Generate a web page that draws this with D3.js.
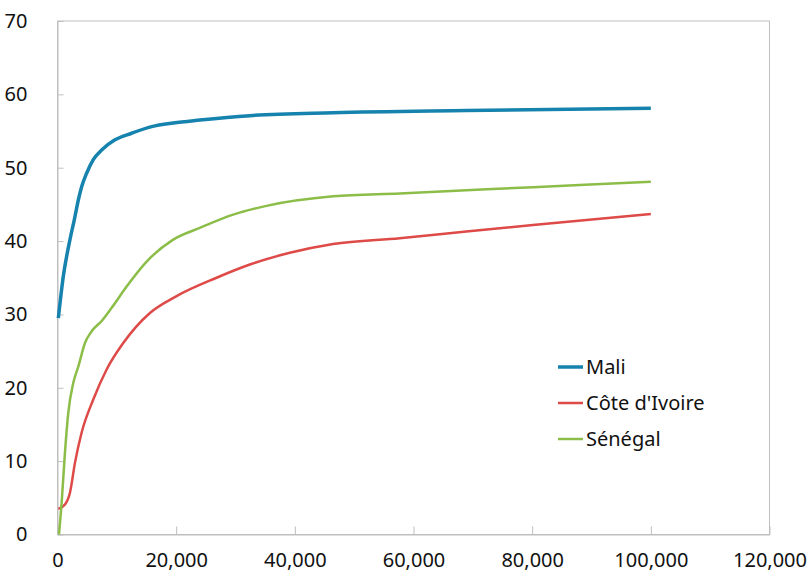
<!DOCTYPE html>
<html><head><meta charset="utf-8">
<script src="https://cdn.jsdelivr.net/npm/d3@7"></script>
<style>body{margin:0;background:#fff}svg{display:block}text{font-family:"Noto Sans",sans-serif;fill:#111}</style>
</head><body>
<svg id="c" width="810" height="583"></svg>
<script>
const seriesNames = ["Mali", "Côte d'Ivoire", "Sénégal"];
const seriesColors = ["#1682AE", "#DD4A47", "#8BBD48"];
const maliX = [140, 980, 2100, 2830, 3510, 4070, 4910, 6030, 7440, 9680, 12490, 15860, 19500, 24000, 32400, 46450, 68900, 100000];
const maliY = [29.5, 35.2, 40.2, 42.9, 45.6, 47.4, 49.25, 51.1, 52.4, 53.8, 54.7, 55.6, 56.1, 56.5, 57.1, 57.5, 57.8, 58.1];
const civX = [140, 1260, 2100, 2950, 4070, 6030, 8280, 11080, 15580, 20070, 26810, 32420, 39150, 46450, 57680, 68900, 80130, 100000];
const civY = [3.5, 4.1, 5.7, 9.8, 13.9, 18.4, 22.5, 26.1, 30.2, 32.5, 35.0, 36.8, 38.4, 39.6, 40.4, 41.3, 42.2, 43.7];
const senX = [250, 700, 1260, 1820, 2670, 3510, 4630, 5750, 7440, 9130, 11650, 15020, 19500, 24000, 29600, 35230, 46450, 57680, 80130, 100000];
const senY = [0, 4.35, 11.2, 16.6, 20.7, 22.9, 26.1, 27.7, 29.1, 30.9, 33.8, 37.2, 40.2, 41.8, 43.6, 44.8, 46.1, 46.5, 47.35, 48.1];
const xTicks = [0, 20000, 40000, 60000, 80000, 100000, 120000];
const yTicks = [0, 10, 20, 30, 40, 50, 60, 70];

const seriesX = [maliX, civX, senX];
const seriesY = [maliY, civY, senY];
const widths = [3.5, 2.5, 2.5];

const svg = d3.select("#c");
const L = 57.5, R = 769.5, T = 21, B = 534.5;
const x = d3.scaleLinear().domain([0, 120000]).range([L, R]);
const y = d3.scaleLinear().domain([0, 70]).range([B, T]);
const axisColor = "#BFBFBF";

// plot frame
svg.append("rect").attr("x", L).attr("y", T).attr("width", R - L).attr("height", B - T)
  .attr("fill", "none").attr("stroke", axisColor).attr("stroke-width", 1);

const fmt = d3.format(",");
const xa = svg.append("g").attr("transform", `translate(0,${B})`)
  .call(d3.axisBottom(x).tickValues(xTicks).tickFormat(fmt).tickSizeInner(-8).tickSizeOuter(0).tickPadding(17));
const ya = svg.append("g").attr("transform", `translate(${L},0)`)
  .call(d3.axisLeft(y).tickValues(yTicks).tickSizeInner(-6).tickSizeOuter(0).tickPadding(30));
[xa, ya].forEach(a => {
  a.select(".domain").attr("stroke", axisColor);
  a.selectAll(".tick line").attr("stroke", axisColor);
  a.selectAll(".tick text").style("font-size", "20px").attr("fill", "#111");
});
xa.selectAll(".tick text").attr("dy", "0.75em");

const line = d3.line().x(d => x(d[0])).y(d => y(d[1])).curve(d3.curveMonotoneX);
seriesNames.forEach((n, i) => {
  const pts = seriesX[i].map((v, j) => [v, seriesY[i][j]]);
  svg.append("path").datum(pts).attr("d", line).attr("fill", "none")
    .attr("stroke", seriesColors[i]).attr("stroke-width", widths[i])
    .attr("stroke-linejoin", "round").attr("stroke-linecap", "butt");
});

// legend
const lg = svg.append("g");
seriesNames.forEach((n, i) => {
  const yy = 367 + i * 36;
  lg.append("line").attr("x1", 558).attr("x2", 583).attr("y1", yy).attr("y2", yy)
    .attr("stroke", seriesColors[i]).attr("stroke-width", widths[i]);
  lg.append("text").attr("x", 586).attr("y", yy).attr("dy", "0.35em")
    .style("font-size", "20px").text(n);
});
</script>
</body></html>
